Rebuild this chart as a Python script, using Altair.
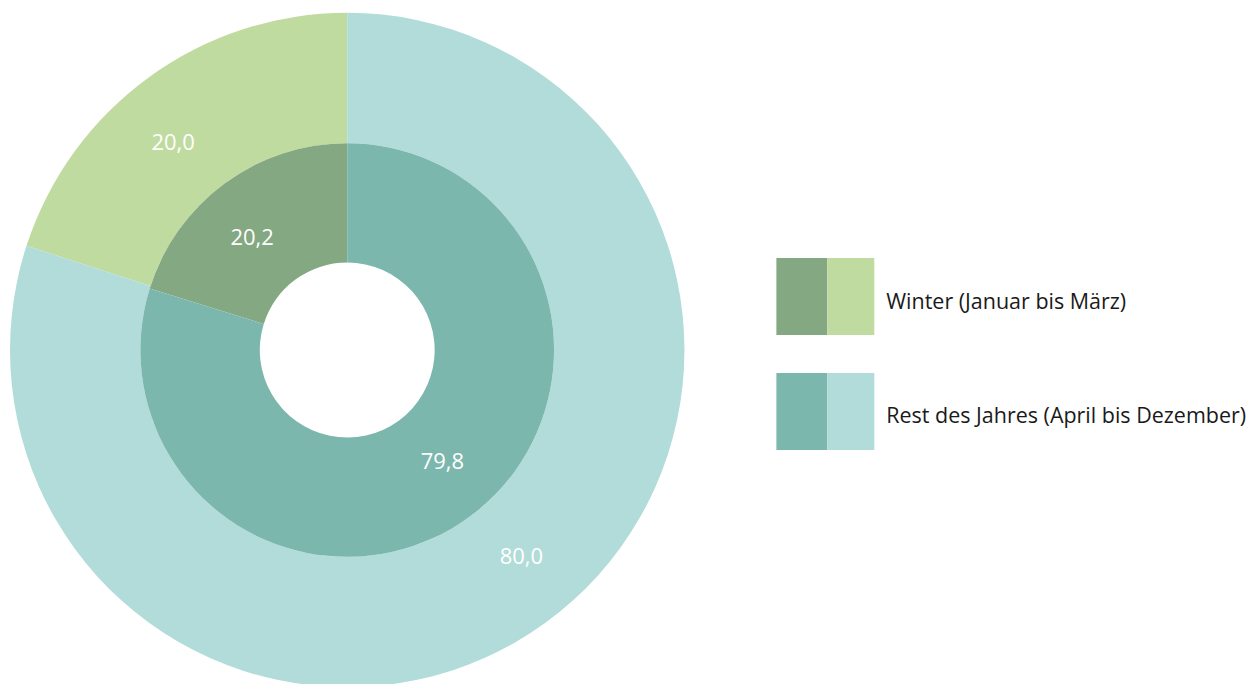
import altair as alt
import pandas as pd

categories = ["Winter (Januar bis März)", "Rest des Jahres (April bis Dezember)"]
inner_values = [20.2, 79.8]
outer_values = [20.0, 80.0]
inner_labels = ["20,2", "79,8"]
outer_labels = ["20,0", "80,0"]
inner_colors = ["#84a882", "#7cb7ad"]
outer_colors = ["#c0dba0", "#b2dcda"]
slice_order = [1, 0]

FONT = "Open Sans"

inner_df = pd.DataFrame({"cat": categories, "value": inner_values,
                         "label": inner_labels, "ord": slice_order})
outer_df = pd.DataFrame({"cat": categories, "value": outer_values,
                         "label": outer_labels, "ord": slice_order})

CX, CY = 339.5, 342

def ring(df, colors, r0, r1, rlab):
    base = alt.Chart(df).encode(
        theta=alt.Theta("value:Q", stack=True),
        order=alt.Order("ord:Q"),
        x=alt.value(CX), y=alt.value(CY),
    )
    arc = base.mark_arc(innerRadius=r0, outerRadius=r1).encode(
        color=alt.Color("cat:N", scale=alt.Scale(domain=categories, range=colors),
                        legend=None)
    )
    txt = base.mark_text(radius=rlab, thetaOffset=-0.07, font=FONT, fontSize=22,
                         color="white").encode(
        text="label:N"
    )
    return alt.layer(arc, txt)

pie = alt.layer(
    ring(outer_df, outer_colors, 207, 337.5, 271),
    ring(inner_df, inner_colors, 87.5, 207, 147),
).resolve_scale(color="independent", theta="independent").properties(
    width=679, height=668)

leg_df = pd.DataFrame({"cat": categories})
yenc = alt.Y("cat:N", scale=alt.Scale(domain=categories, range=[250, 442],
                                      paddingInner=0.3304, paddingOuter=0),
             axis=None)
leg_base = alt.Chart(leg_df).encode(y=yenc)
rect_dark = leg_base.mark_rect().encode(
    x=alt.value(0), x2=alt.value(51),
    color=alt.Color("cat:N", scale=alt.Scale(domain=categories, range=inner_colors),
                    legend=None),
)
rect_light = leg_base.mark_rect().encode(
    x=alt.value(51), x2=alt.value(98),
    fill=alt.Fill("cat:N", scale=alt.Scale(domain=categories, range=outer_colors),
                  legend=None),
)
leg_text = leg_base.mark_text(align="left", baseline="middle", font=FONT,
                              fontSize=21.5, color="#1a1a1a", dy=6).encode(
    x=alt.value(110), text="cat:N"
)
legend = alt.layer(rect_dark, rect_light, leg_text).resolve_scale(
    color="independent", fill="independent"
).properties(width=470, height=668)

chart = alt.hconcat(pie, legend, spacing=90).properties(padding=0).configure_view(
    stroke=None
)

chart.save("out.html", embed_options={"renderer": "svg", "actions": False})
